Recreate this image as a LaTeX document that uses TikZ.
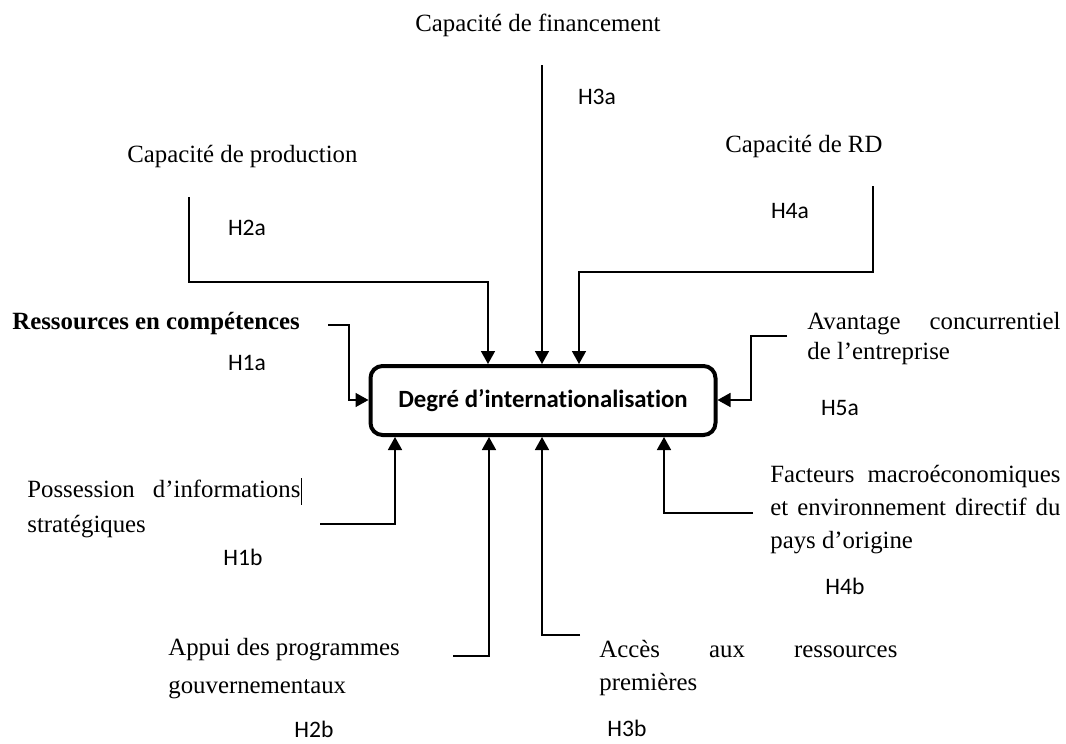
\documentclass[tikz,border=0pt]{standalone}
\usepackage{fontspec}
\setmainfont{Liberation Serif}
\newfontfamily\calfont[RawFeature=-liga]{Carlito}
\usetikzlibrary{arrows.meta}

\begin{document}
\begin{tikzpicture}[x=0.5pt,y=-0.5pt,
  lbl/.style={inner sep=0pt,font=\fontsize{12.4}{15}\selectfont,anchor=base west},
  hyp/.style={inner sep=0pt,font=\calfont\fontsize{11.8}{14}\selectfont,anchor=base},
  mainbox/.style={draw,line width=2pt,rounded corners=6pt,minimum width=172.5pt,
    minimum height=34.5pt,inner sep=0pt,font=\calfont\bfseries\fontsize{12.4}{15}\selectfont},
  conn/.style={line width=0.8pt,-{Triangle[length=6.5pt,width=7pt]}}]

\useasboundingbox (0,0) rectangle (1066,744);

% central variable
\node[mainbox] (box) at (543,400.5) {Degré d’internationalisation};

% explanatory variables (multi-line blocks are placed by the baseline of their last line)
\node[lbl,anchor=base] (fin) at (538,32) {Capacité de financement};
\node[lbl] (prod) at (127,162) {Capacité de production};
\node[lbl] (rd) at (725,152) {Capacité de RD};
\node[lbl,font=\bfseries\fontsize{12.4}{15}\selectfont] (comp) at (12,329) {Ressources en compétences};
\node[lbl,align=left,font=\fontsize{12.4}{15}\selectfont] (avant) at (807,359)
  {\makebox[126.5pt][s]{Avantage concurrentiel}\\de l’entreprise};
\node[lbl,align=left,font=\fontsize{12.4}{16.3}\selectfont] (macro) at (770,548)
  {\makebox[145pt][s]{Facteurs macroéconomiques}\\\makebox[145pt][s]{et environnement directif du}\\pays d’origine};
\node[lbl,align=left,font=\fontsize{12.4}{17.5}\selectfont] (info) at (27,532)
  {\makebox[136.5pt][s]{Possession d’informations}\\stratégiques};
\node[lbl,align=left,font=\fontsize{12.4}{19}\selectfont] (gouv) at (168,693)
  {Appui des programmes\\gouvernementaux};
\node[lbl,align=left,font=\fontsize{12.4}{16.5}\selectfont] (mat) at (599,690)
  {\makebox[149pt][s]{Accès aux ressources}\\premières};

% text cursor after the first line
\draw[line width=0.3pt] (301,478) -- (301,505);

% hypothesis labels
\node[hyp] (h3a) at (597,104.5) {H3a};
\node[hyp] (h2a) at (247,235.5) {H2a};
\node[hyp] (h4a) at (790,218.5) {H4a};
\node[hyp] (h1a) at (247,370.5) {H1a};
\node[hyp] (h5a) at (840,415.5) {H5a};
\node[hyp] (h1b) at (243,565.5) {H1b};
\node[hyp] (h4b) at (845,594.5) {H4b};
\node[hyp] (h2b) at (314,737.5) {H2b};
\node[hyp] (h3b) at (627,736.5) {H3b};

% connector start points and bends
\coordinate (finS) at (542,65);
\coordinate (prodS) at (189,197);
\coordinate (prodB) at (488,282);
\coordinate (rdS) at (873,186);
\coordinate (rdB) at (579,272);
\coordinate (compS) at (328,325);
\coordinate (compB) at (349,400);
\coordinate (avS) at (787,336);
\coordinate (avB) at (751,400);
\coordinate (infoS) at (320,524);
\coordinate (infoB) at (395,524);
\coordinate (gouvS) at (453,656);
\coordinate (gouvB) at (489,656);
\coordinate (matS) at (580,635);
\coordinate (matB) at (542,635);
\coordinate (macS) at (753,513);
\coordinate (macB) at (664,513);

% arrows into the central box
\draw[conn] (finS) -- (finS |- box.north);
\draw[conn] (prodS) |- (prodB) -- (prodB |- box.north);
\draw[conn] (rdS) |- (rdB) -- (rdB |- box.north);
\draw[conn] (compS) -| (compB) -- (box.west |- compB);
\draw[conn] (avS) -| (avB) -- (box.east |- avB);
\draw[conn] (infoS) -- (infoB) -- (infoB |- box.south);
\draw[conn] (gouvS) -- (gouvB) -- (gouvB |- box.south);
\draw[conn] (matS) -- (matB) -- (matB |- box.south);
\draw[conn] (macS) -- (macB) -- (macB |- box.south);

\end{tikzpicture}
\end{document}
